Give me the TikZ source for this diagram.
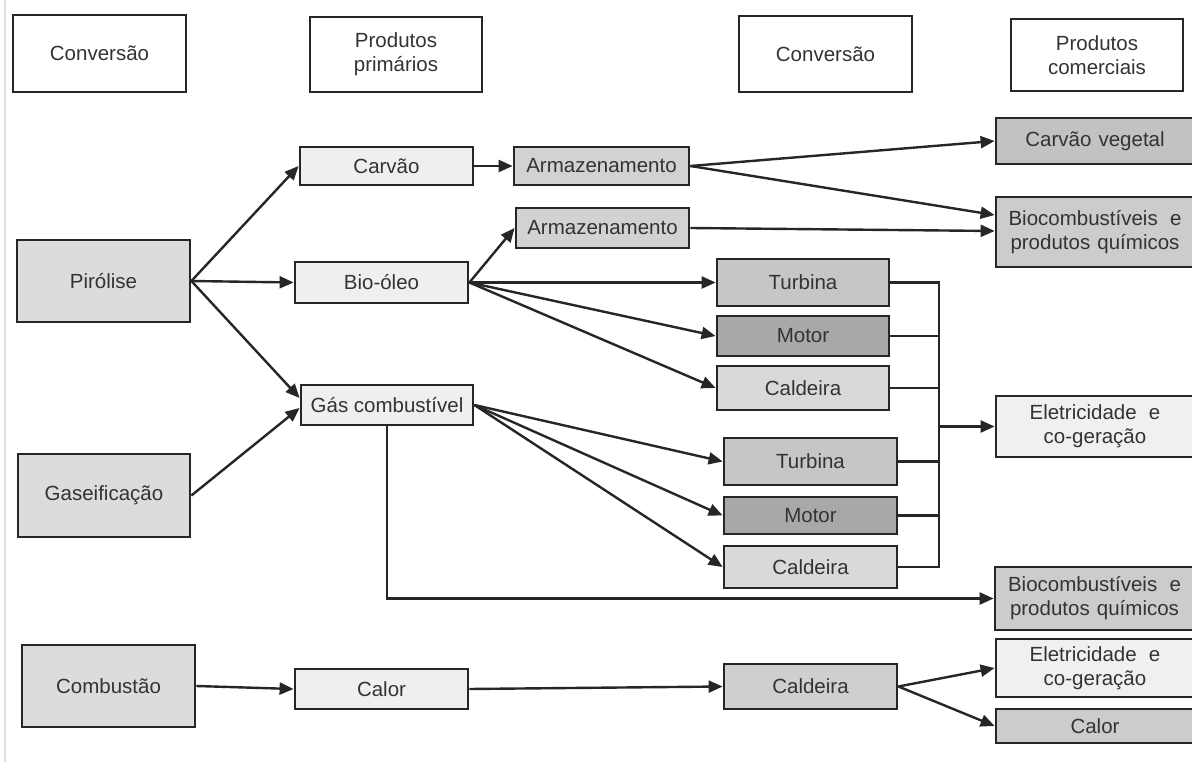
\documentclass[tikz,border=0pt]{standalone}
\usepackage{fontspec}
\setmainfont{Liberation Sans}
\usetikzlibrary{arrows.meta,calc}
\definecolor{txt}{HTML}{333333}
\definecolor{edge}{HTML}{262626}
\definecolor{cA}{HTML}{DCDCDC}
\definecolor{cB}{HTML}{EFEFEF}
\definecolor{cArm}{HTML}{D2D2D2}
\definecolor{cTur}{HTML}{C6C6C6}
\definecolor{cMot}{HTML}{A8A8A8}
\definecolor{cCal}{HTML}{D9D9D9}
\definecolor{cCal3}{HTML}{CFCFCF}
\definecolor{cCv}{HTML}{C2C2C2}
\definecolor{cBc}{HTML}{CCCCCC}
\definecolor{cEl}{HTML}{F0F0F0}
\newcommand\mybx[7]{\node[box,fill=#6,minimum width={#4-#2},minimum height={#5-#3}] (#1) at ({(#2+#4)/2},{(#3+#5)/2}) {#7};}
\begin{document}
\begin{tikzpicture}[x=1pt,y=-1pt,
  box/.style={draw=edge,line width=2.8pt,inner sep=0pt,align=center,text=txt,
    font=\fontsize{20.5}{24}\selectfont},
  arr/.style={draw=edge,line width=2.4pt,-{Triangle[length=14pt,width=12pt]}},
  ln/.style={draw=edge,line width=2.4pt}]
\useasboundingbox (0,0) rectangle (1192,762);
\fill[white] (0,0) rectangle (1192,762);
\draw[black!12,line width=1.5pt] (5,0) -- (5,762);
% headers
\mybx{h1}{13}{15}{186}{92}{white}{Conversão}
\mybx{h2}{310}{17}{482}{92}{white}{Produtos\\primários}
\mybx{h3}{739}{16}{912}{92}{white}{Conversão}
\mybx{h4}{1011}{19}{1183}{91}{white}{Produtos\\comerciais}
% conversion
\mybx{pir}{17}{240}{190}{322}{cA}{Pirólise}
\mybx{gsf}{18}{454}{190}{537}{cA}{Gaseificação}
\mybx{comb}{22}{645}{195}{727}{cA}{Combustão}
% primary products
\mybx{carv}{300}{147}{473}{185}{cB}{Carvão}
\mybx{bio}{295}{262}{468}{303}{cB}{Bio-óleo}
\mybx{gc}{301}{385}{473}{425}{cB}{Gás combustível}
\mybx{calor}{295}{669}{468}{709}{cB}{Calor}
% storage / conversion
\mybx{arm1}{514}{147}{689}{185}{cArm}{Armazenamento}
\mybx{arm2}{516}{208}{689}{248}{cArm}{Armazenamento}
\mybx{tur1}{717}{259}{889}{306}{cTur}{Turbina}
\mybx{mot1}{717}{316}{889}{356}{cMot}{Motor}
\mybx{cal1}{717}{366}{889}{410}{cCal}{Caldeira}
\mybx{tur2}{724}{438}{897}{485}{cTur}{Turbina}
\mybx{mot2}{724}{497}{897}{534}{cMot}{Motor}
\mybx{cal2}{724}{546}{897}{588}{cCal}{Caldeira}
\mybx{cal3}{724}{664}{897}{709}{cCal3}{Caldeira}
% commercial products
\mybx{cv}{996}{118}{1194}{164}{cCv}{Carvão\hspace{0.35em}vegetal}
\mybx{bc1}{996}{197}{1194}{267}{cBc}{Biocombustíveis\hspace{0.6em}e\\produtos\hspace{0.35em}químicos}
\mybx{el1}{996}{396}{1194}{457}{cEl}{Eletricidade\hspace{0.6em}e\\co-geração}
\mybx{bc2}{995}{567}{1194}{630}{cBc}{Biocombustíveis\hspace{0.6em}e\\produtos\hspace{0.35em}químicos}
\mybx{el2}{996}{639}{1194}{697}{cEl}{Eletricidade\hspace{0.6em}e\\co-geração}
\mybx{cl2}{996}{709}{1194}{743}{cBc}{Calor}
% arrows from conversion
\draw[arr] (pir.east) -- (carv.west);
\draw[arr] (pir.east) -- (bio.west);
\draw[arr] (pir.east) -- ($(gc.west)+(0,-7)$);
\draw[arr] (gsf.east) -- ($(gc.west)+(0,3)$);
\draw[arr] (comb.east) -- (calor.west);
% primary -> next
\draw[arr] (carv.east) -- (arm1.west);
\draw[arr] (arm1.east) -- (cv.west);
\draw[arr] (arm1.east) -- ($(bc1.west)+(0,-17)$);
\draw[arr] (arm2.east) -- ($(bc1.west)+(0,-1)$);
\draw[arr] (bio.east) -- (arm2.west);
\draw[arr] (bio.east) -- (tur1.west);
\draw[arr] (bio.east) -- (mot1.west);
\draw[arr] (bio.east) -- (cal1.west);
\draw[arr] (gc.east) -- (tur2.west);
\draw[arr] (gc.east) -- (mot2.west);
\draw[arr] (gc.east) -- (cal2.west);
% bus
\coordinate (bt) at (939,282.5);
\coordinate (bb) at (939,567);
\coordinate (bm) at (939,426.5);
\draw[ln] (tur1.east) -- (bt) -- (bb) -- (cal2.east);
\draw[ln] (mot1.east) -- (mot1.east -| bt);
\draw[ln] (cal1.east) -- (cal1.east -| bt);
\draw[ln] (tur2.east) -- (tur2.east -| bt);
\draw[ln] (mot2.east) -- (mot2.east -| bt);
\draw[arr] (bm) -- (el1.west);
% gas bottom line
\coordinate (gcd) at (387,598.5);
\draw[arr] (gc.south -| gcd) -- (gcd) -- (bc2.west);
% combustion line
\draw[arr] (calor.east) -- (cal3.west);
\draw[arr] (cal3.east) -- (el2.west);
\draw[arr] (cal3.east) -- (cl2.west);
\end{tikzpicture}
\end{document}
